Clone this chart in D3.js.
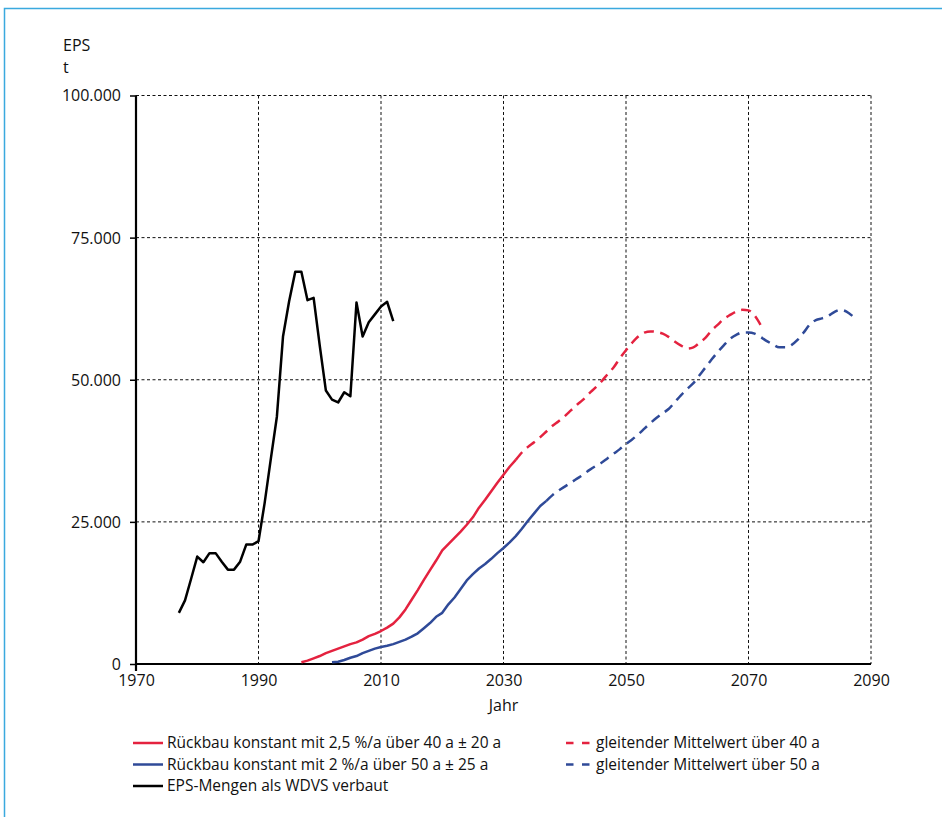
<!DOCTYPE html>
<html>
<head>
<meta charset="utf-8">
<script src="https://cdn.jsdelivr.net/npm/d3@7"></script>
<style>
  html, body { margin: 0; padding: 0; background: #fff; }
  svg { display: block; }
  text { font-family: "Open Sans", "Noto Sans", sans-serif; fill: #111; }
</style>
</head>
<body>
<svg id="chart" width="947" height="817"></svg>
<script>
// ---------- DATA ----------
const xTicks = [1970, 1990, 2010, 2030, 2050, 2070, 2090];
const yTicks = [0, 25000, 50000, 75000, 100000];

const blackStart = 1977;
const blackValues = [9000, 11200, 15000, 18900, 17900, 19500, 19500, 18000, 16600, 16600,
  18000, 21000, 21000, 21600, 28300, 36000, 43500, 57600, 63800, 69000,
  69000, 64000, 64400, 56000, 48100, 46500, 46000, 47800, 47100, 63600,
  57600, 60100, 61500, 62900, 63700, 60300];

const redSolidStart = 1997;
const redSolidValues = [300, 600, 1000, 1400, 1900, 2300, 2700, 3100, 3500, 3800,
  4300, 4900, 5300, 5800, 6400, 7100, 8200, 9600, 11300, 13000,
  14800, 16500, 18200, 20000, 21100, 22200, 23300, 24500, 25800, 27500,
  28900, 30400, 31900, 33300, 34700, 35900];

const redDashStart = 2032;
const redDashValues = [35900, 37200, 38200, 39000, 39900, 40900, 41900, 42700, 43600, 44600,
  45600, 46500, 47600, 48600, 49700, 51000, 52200, 53800, 55200, 56500,
  57600, 58300, 58500, 58400, 58100, 57500, 56700, 56000, 55500, 55700,
  56500, 57400, 58700, 59700, 60700, 61400, 62000, 62300, 62200, 61300,
  59600];

const blueSolidStart = 2002;
const blueSolidValues = [300, 400, 700, 1100, 1400, 1900, 2300, 2700, 3000, 3200,
  3500, 3900, 4300, 4800, 5400, 6300, 7200, 8300, 9000, 10500,
  11700, 13200, 14700, 15800, 16800, 17600, 18500, 19500, 20400, 21400,
  22500, 23800, 25200, 26500, 27800, 28700];

const blueDashStart = 2037;
const blueDashValues = [28700, 29700, 30500, 31200, 31900, 32600, 33300, 34100, 34800, 35400,
  36200, 37000, 37800, 38700, 39500, 40400, 41400, 42400, 43300, 44100,
  44900, 46100, 47300, 48400, 49400, 50800, 52200, 53600, 54900, 56100,
  57200, 57900, 58300, 58300, 58100, 57500, 56800, 56200, 55700, 55700,
  56100, 57000, 58300, 59700, 60500, 60800, 61200, 61900, 62300, 62000,
  61200];

const legendLabels = [
  "Rückbau konstant mit 2,5 %/a über 40 a ± 20 a",
  "Rückbau konstant mit 2 %/a über 50 a ± 25 a",
  "EPS-Mengen als WDVS verbaut",
  "gleitender Mittelwert über 40 a",
  "gleitender Mittelwert über 50 a"
];

const RED = "#e4223f";
const BLUE = "#2f4a98";
const BLACK = "#000";
const FRAME = "#3aa9de";

// ---------- SETUP ----------
const svg = d3.select("#chart");
const x = d3.scaleLinear().domain([1970, 2090]).range([136, 871]);
const y = d3.scaleLinear().domain([0, 100000]).range([664, 95.5]);
const de = d3.formatLocale({decimal: ",", thousands: ".", grouping: [3], currency: ["", "€"]});
const fmt = de.format(",");

const toPts = (start, vals) => vals.map((v, i) => ({year: start + i, v}));

// frame
svg.append("path")
  .attr("d", "M4.5,817 L4.5,8.5 L942,8.5")
  .attr("fill", "none").attr("stroke", FRAME).attr("stroke-width", 1.5);

// grid
const grid = svg.append("g");
grid.selectAll("line.h").data(yTicks.filter(d => d > 0)).join("line")
  .attr("x1", x(1970)).attr("x2", x(2090))
  .attr("y1", d => y(d)).attr("y2", d => y(d))
  .attr("stroke", "#111").attr("stroke-width", 1).attr("stroke-dasharray", "3,2.5");
grid.selectAll("line.v").data(xTicks.filter(d => d > 1970)).join("line")
  .attr("x1", d => x(d)).attr("x2", d => x(d))
  .attr("y1", y(100000)).attr("y2", y(0))
  .attr("stroke", "#111").attr("stroke-width", 1).attr("stroke-dasharray", "3,2.5");

// axes
const yAxis = d3.axisLeft(y).tickValues(yTicks).tickFormat(d => fmt(d)).tickSize(6).tickPadding(9);
const gy = svg.append("g").attr("transform", `translate(${x(1970)},0)`).call(yAxis);
gy.select(".domain").remove();
gy.selectAll(".tick line").attr("stroke", BLACK).attr("stroke-width", 1.5);
gy.selectAll(".tick text").style("font-size", "16px").attr("fill", "#111").attr("dy", "0.34em");

const xAxis = d3.axisBottom(x).tickValues(xTicks).tickFormat(d => d).tickSize(0).tickPadding(11);
const gx = svg.append("g").attr("transform", `translate(0,${y(0)})`).call(xAxis);
gx.select(".domain").remove();
gx.selectAll(".tick text").style("font-size", "16px").attr("fill", "#111");

// axis lines
svg.append("line").attr("x1", x(1970)).attr("x2", x(1970)).attr("y1", y(100000)).attr("y2", y(0) + 7)
  .attr("stroke", BLACK).attr("stroke-width", 2.2);
svg.append("line").attr("x1", x(1970) - 1).attr("x2", x(2090)).attr("y1", y(0)).attr("y2", y(0))
  .attr("stroke", BLACK).attr("stroke-width", 2.2);

// axis titles
svg.append("text").attr("x", 63).attr("y", 51).style("font-size", "16px").text("EPS");
svg.append("text").attr("x", 63).attr("y", 73).style("font-size", "16px").text("t");
svg.append("text").attr("x", x(2030)).attr("y", 711).attr("text-anchor", "middle").style("font-size", "16px").text("Jahr");

// lines
const lineLin = d3.line().x(d => x(d.year)).y(d => y(d.v));
const lineSmooth = d3.line().x(d => x(d.year)).y(d => y(d.v)).curve(d3.curveMonotoneX);

const series = [
  {pts: toPts(redDashStart, redDashValues), color: RED, dash: "10,6.5", gen: lineSmooth},
  {pts: toPts(blueDashStart, blueDashValues), color: BLUE, dash: "10,6.5", gen: lineSmooth},
  {pts: toPts(redSolidStart, redSolidValues), color: RED, dash: null, gen: lineLin},
  {pts: toPts(blueSolidStart, blueSolidValues), color: BLUE, dash: null, gen: lineLin},
  {pts: toPts(blackStart, blackValues), color: BLACK, dash: null, gen: lineLin}
];
svg.append("g").selectAll("path").data(series).join("path")
  .attr("d", d => d.gen(d.pts))
  .attr("fill", "none")
  .attr("stroke", d => d.color)
  .attr("stroke-width", 2.5)
  .attr("stroke-linejoin", "round")
  .attr("stroke-dasharray", d => d.dash);

// legend
const legendItems = [
  {label: legendLabels[0], color: RED, dash: false, x: 133, y: 743},
  {label: legendLabels[1], color: BLUE, dash: false, x: 133, y: 764.5},
  {label: legendLabels[2], color: BLACK, dash: false, x: 133, y: 786},
  {label: legendLabels[3], color: RED, dash: true, x: 566, y: 743},
  {label: legendLabels[4], color: BLUE, dash: true, x: 566, y: 764.5}
];
const lg = svg.append("g").selectAll("g").data(legendItems).join("g")
  .attr("transform", d => `translate(${d.x},${d.y})`);
lg.append("line")
  .attr("x1", 0).attr("x2", d => d.dash ? 23.5 : 30).attr("y1", 0).attr("y2", 0)
  .attr("stroke", d => d.color).attr("stroke-width", 2.5)
  .attr("stroke-dasharray", d => d.dash ? "7.5,8.5" : null);
lg.append("text")
  .attr("x", d => d.dash ? 30 : 34).attr("y", 0).attr("dy", "0.35em")
  .style("font-size", "15.5px").text(d => d.label);
</script>
</body>
</html>
